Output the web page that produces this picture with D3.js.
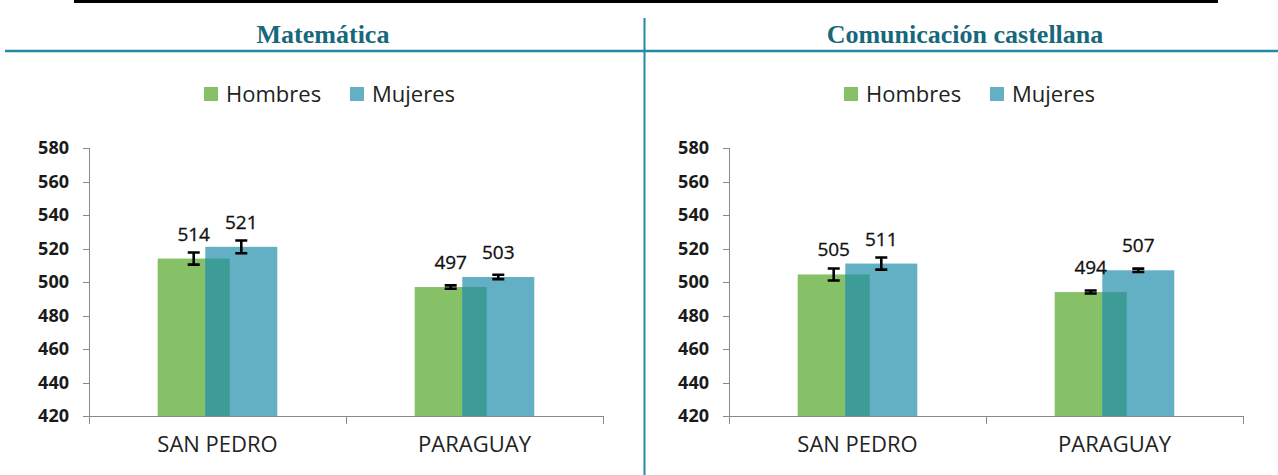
<!doctype html>
<html lang="es">
  <head>
    <meta charset="UTF-8" />
    <title>Matemática y Comunicación castellana</title>
    <script src="https://unpkg.com/d3@7.9.0/dist/d3.min.js"></script>
    <style>
      body {
        margin: 0;
        background: #fff;
        overflow: hidden;
      }
      .title {
        font-family: 'Liberation Serif', serif;
        font-weight: bold;
        font-size: 26px;
        fill: #17687a;
        text-anchor: middle;
      }
      .legend text {
        font-family: 'Open Sans', sans-serif;
        font-size: 22px;
        fill: #222;
      }
      .y-axis text {
        font-family: 'Open Sans', sans-serif;
        font-weight: bold;
        font-size: 18px;
        fill: #1a1a1a;
      }
      .x-axis text {
        font-family: 'Open Sans', sans-serif;
        font-size: 22px;
        fill: #222;
      }
      .axis path,
      .axis line {
        stroke: #8a8a8a;
        shape-rendering: crispEdges;
      }
      .value {
        font-family: 'Open Sans', sans-serif;
        font-size: 19px;
        fill: #111;
        stroke: #111;
        stroke-width: 0.3px;
        text-anchor: middle;
      }
      .err {
        stroke: #000;
        stroke-width: 2.6px;
        fill: none;
      }
    </style>
  </head>
  <body>
    <svg width="1278" height="475"></svg>

    <script>
      // datos
      const subjects = ['Matemática', 'Comunicación castellana'];
      const regions = ['SAN PEDRO', 'PARAGUAY'];
      const series = ['Hombres', 'Mujeres'];
      const colors = ['#86c067', '#63b0c5'];
      const overlapColor = '#3d9c95';

      const matHombres = [514, 497];
      const matMujeres = [521, 503];
      const comHombres = [504.5, 494];
      const comMujeres = [511, 507];

      const matHombresErr = [3.6, 1.0];
      const matMujeresErr = [3.8, 1.3];
      const comHombresErr = [3.6, 0.9];
      const comMujeresErr = [3.6, 1.0];

      const yTicks = [420, 440, 460, 480, 500, 520, 540, 560, 580];

      const panels = [
        { values: [matHombres, matMujeres], errs: [matHombresErr, matMujeresErr] },
        { values: [comHombres, comMujeres], errs: [comHombresErr, comMujeresErr] },
      ];

      const svg = d3.select('svg');
      const panelWidth = 640;
      const margin = { left: 89, top: 148 };
      const plotW = 514,
        plotH = 268;
      const barW = 72;

      // marco
      svg.append('line')
        .attr('x1', 74).attr('x2', 1218)
        .attr('y1', 1.5).attr('y2', 1.5)
        .attr('stroke', '#000').attr('stroke-width', 3);
      svg.append('line')
        .attr('x1', 5).attr('x2', 1278)
        .attr('y1', 51).attr('y2', 51)
        .attr('stroke', '#2489a6').attr('stroke-width', 2.5);
      svg.append('line')
        .attr('x1', 644.5).attr('x2', 644.5)
        .attr('y1', 18).attr('y2', 475)
        .attr('stroke', '#2489a6').attr('stroke-width', 2);

      const y = d3.scaleLinear().domain([420, 580]).range([plotH, 0]);
      const x = d3.scaleBand().domain(regions).range([0, plotW]);
      const xs = d3.scalePoint().domain(series).range([-23.8, 23.8]);

      panels.forEach((p, pi) => {
        const pg = svg.append('g')
          .attr('transform', `translate(${pi * panelWidth},0)`);

        pg.append('text')
          .attr('class', 'title')
          .attr('x', pi === 0 ? 323 : 325)
          .attr('y', 43)
          .text(subjects[pi]);

        // leyenda
        const legend = pg.append('g')
          .attr('class', 'legend')
          .attr('transform', 'translate(204,87)');
        series.forEach((s, i) => {
          const lg = legend.append('g')
            .attr('transform', `translate(${i * 146},0)`);
          lg.append('rect')
            .attr('width', 14).attr('height', 14)
            .attr('fill', colors[i]);
          lg.append('text')
            .attr('x', 22).attr('y', 15)
            .text(s);
        });

        const g = pg.append('g')
          .attr('transform', `translate(${margin.left},${margin.top})`);

        // ejes
        const yAxis = g.append('g')
          .attr('class', 'axis y-axis')
          .call(d3.axisLeft(y).tickValues(yTicks).tickSize(6).tickPadding(14));
        yAxis.select('.domain').attr('d', `M0,0V${plotH + 8}`);

        const xAxis = g.append('g')
          .attr('class', 'axis x-axis')
          .attr('transform', `translate(0,${plotH})`)
          .call(d3.axisBottom(x).tickSize(0).tickPadding(20));
        xAxis.select('.domain').attr('d', `M0,0H${plotW}`);
        xAxis.selectAll('.sep')
          .data(d3.range(regions.length + 1))
          .enter()
          .append('line')
          .attr('class', 'sep')
          .attr('x1', (d) => d * x.step())
          .attr('x2', (d) => d * x.step())
          .attr('y1', 0)
          .attr('y2', 8);

        const rows = regions.map((r, ri) => ({
          region: r,
          bars: series.map((s, si) => ({
            series: s,
            si: si,
            value: p.values[si][ri],
            err: p.errs[si][ri],
            cx: x(r) + x.bandwidth() / 2 + xs(s),
          })),
        }));

        rows.forEach((row) => {
          const rg = g.append('g');
          rg.selectAll('rect.bar')
            .data(row.bars)
            .enter()
            .append('rect')
            .attr('class', 'bar')
            .attr('x', (d) => d.cx - barW / 2)
            .attr('y', (d) => y(d.value))
            .attr('width', barW)
            .attr('height', (d) => plotH - y(d.value))
            .attr('fill', (d) => colors[d.si]);

          // zona superpuesta
          const [a, b] = row.bars;
          const ox = b.cx - barW / 2,
            ow = a.cx + barW / 2 - ox;
          const oy = Math.max(y(a.value), y(b.value));
          rg.append('rect')
            .attr('x', ox)
            .attr('y', oy)
            .attr('width', ow)
            .attr('height', plotH - oy)
            .attr('fill', overlapColor);

          // barras de error
          row.bars.forEach((d) => {
            const y0 = y(d.value - d.err),
              y1 = y(d.value + d.err);
            rg.append('path')
              .attr('class', 'err')
              .attr('d', `M${d.cx - 6},${y1}H${d.cx + 6}M${d.cx},${y1}V${y0}M${d.cx - 6},${y0}H${d.cx + 6}`);
          });

          rg.selectAll('text.value')
            .data(row.bars)
            .enter()
            .append('text')
            .attr('class', 'value')
            .attr('x', (d) => d.cx)
            .attr('y', (d) => y(d.value) - 18)
            .text((d) => Math.round(d.value));
        });
      });
    </script>
  </body>
</html>
